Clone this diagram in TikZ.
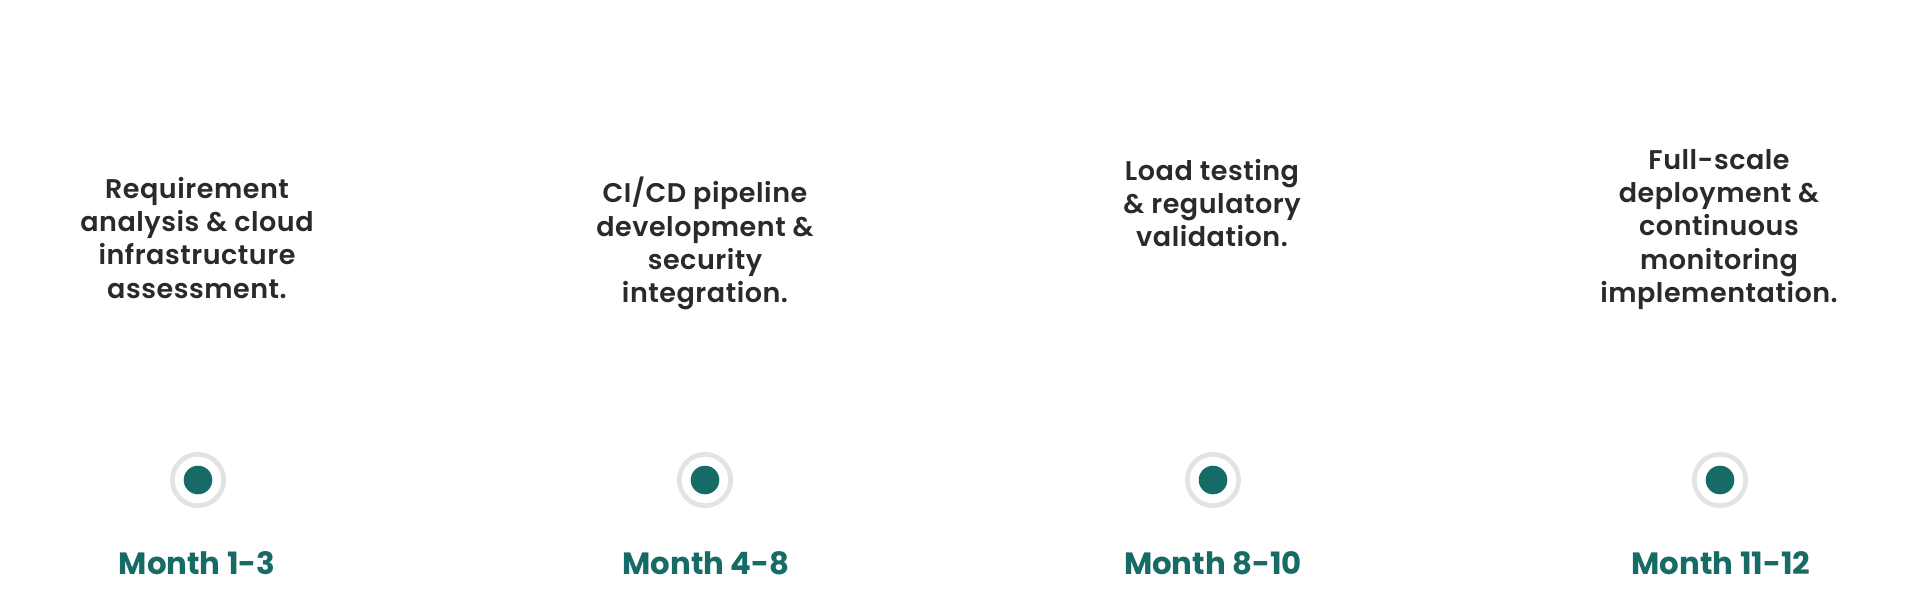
\documentclass[tikz,border=0pt]{standalone}
\usepackage{fontspec}
\setmainfont{Poppins}
\newfontfamily\descfont{Poppins SemiBold}[LetterSpace=2]
\newfontfamily\monthfont{Poppins Bold}
\definecolor{teal}{HTML}{176B66}
\definecolor{ringgray}{HTML}{E2E4E3}
\definecolor{txtdark}{HTML}{2A2A2A}
\begin{document}
\begin{tikzpicture}[x=1pt,y=-1pt,
  desc/.style={anchor=north,align=center,inner sep=0pt,text=txtdark,
    font=\descfont\fontsize{27}{33.3}\selectfont},
  month/.style={anchor=base,inner sep=0pt,text=teal,
    font=\monthfont\fontsize{30.8}{36}\selectfont},
  ring/.style={circle,draw=ringgray,line width=4.7pt,minimum size=51.4pt,inner sep=0pt},
  dot/.style={circle,fill=teal,minimum size=28.6pt,inner sep=0pt}]
\useasboundingbox (0,0) rectangle (1920,611);
\fill[white] (0,0) rectangle (1920,611);
% column 1
\node[desc] (d1) at (197,177) {Requirement\\analysis \& cloud\\infrastructure\\assessment.};
\node[ring] (r1) at (198,480) {};
\node[dot] (c1) at (r1.center) {};
\node[month] (m1) at (197,574) {Month 1-3};
% column 2
\node[desc] (d2) at (705,177) {CI/CD pipeline\\development \&\\security\\integration.};
\node[ring] (r2) at (705,480) {};
\node[dot] (c2) at (r2.center) {};
\node[month] (m2) at (706,574) {Month 4-8};
% column 3
\node[desc] (d3) at (1212,159) {Load testing\\\& regulatory\\validation.};
\node[ring] (r3) at (1213,480) {};
\node[dot] (c3) at (r3.center) {};
\node[month] (m3) at (1213,574) {Month 8-10};
% column 4
\node[desc] (d4) at (1719,149) {Full-scale\\deployment \&\\continuous\\monitoring\\implementation.};
\node[ring] (r4) at (1720,480) {};
\node[dot] (c4) at (r4.center) {};
\node[month] (m4) at (1721,574) {Month 11-12};
\end{tikzpicture}
\end{document}
